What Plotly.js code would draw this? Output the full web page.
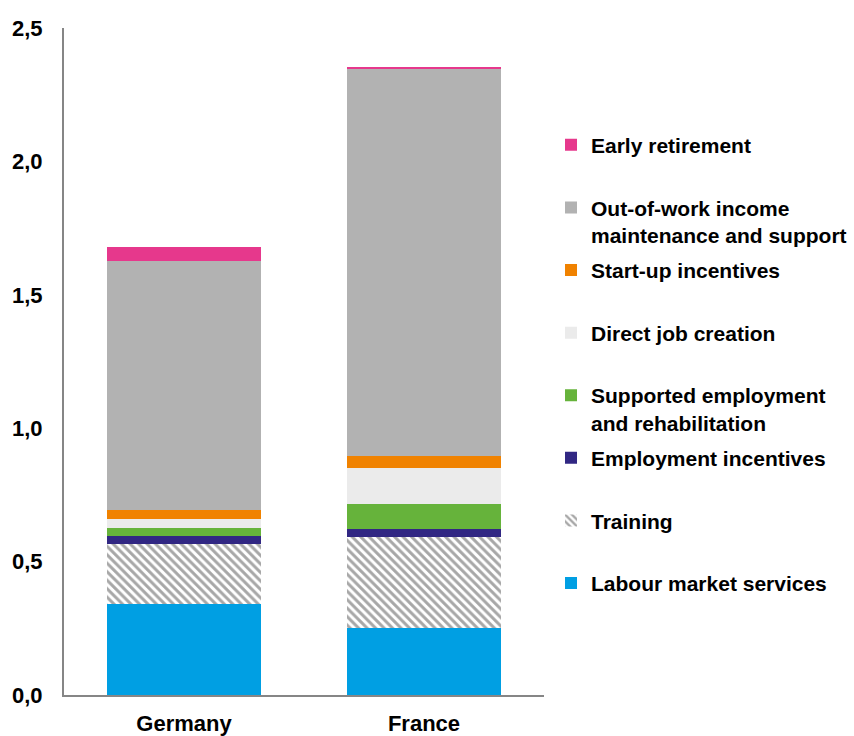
<!DOCTYPE html>
<html>
<head>
<meta charset="utf-8">
<script src="https://cdn.plot.ly/plotly-3.0.1.min.js"></script>
<style>
  html, body { margin: 0; padding: 0; background: #ffffff; }
  #chart { width: 854px; height: 736px; }
</style>
</head>
<body>
<div id="chart"></div>
<script>
// Categories
const countries = ["Germany", "France"];

// Series values (% of GDP), bottom to top of the stack
const labourMarketServices   = [0.340, 0.250];
const training               = [0.225, 0.343];
const employmentIncentives   = [0.032, 0.029];
const supportedEmployment    = [0.029, 0.094];
const directJobCreation      = [0.033, 0.135];
const startUpIncentives      = [0.036, 0.046];
const outOfWorkIncome        = [0.932, 1.450];
const earlyRetirement        = [0.051, 0.008];

// Legend labels
const seriesNames = [
  "Labour market services",
  "Training",
  "Employment incentives",
  "Supported employment<br>and rehabilitation",
  "Direct job creation",
  "Start-up incentives",
  "Out-of-work income<br>maintenance and support",
  "Early retirement"
];

const seriesValues = [
  labourMarketServices, training, employmentIncentives, supportedEmployment,
  directJobCreation, startUpIncentives, outOfWorkIncome, earlyRetirement
];

const seriesColors = [
  "#009FE3", "#FFFFFF", "#312783", "#66B33B",
  "#EBEBEB", "#F08200", "#B2B2B2", "#E6388C"
];

const FONT = "Liberation Sans, Arial, Helvetica, sans-serif";

// pad single-line legend names to two lines so entries are evenly spaced
function legendName(n) {
  return n.indexOf("<br>") >= 0 ? n : n + "<br>&nbsp;";
}

const traces = seriesValues.map((vals, i) => {
  const t = {
    type: "bar",
    x: countries,
    y: vals,
    name: legendName(seriesNames[i]),
    legendgroup: "g" + i,
    legendrank: 1000 - i,
    marker: { color: seriesColors[i], line: { width: 0 } },
    hoverinfo: "x+y+name"
  };
  if (i === 1) {
    t.marker.pattern = {
      shape: "\\",
      fgcolor: "#505050",
      bgcolor: "#FFFFFF",
      size: 6,
      solidity: 0.5,
      fillmode: "overlay"
    };
  }
  return t;
});

const layout = {
  width: 854,
  height: 736,
  margin: { l: 64, r: 310, t: 28, b: 41, pad: 0, autoexpand: false },
  paper_bgcolor: "#FFFFFF",
  plot_bgcolor: "#FFFFFF",
  separators: ", ",
  barmode: "stack",
  bargap: 0.36,
  font: { family: FONT, size: 22, color: "#000000", weight: "bold" },
  showlegend: true,
  legend: {
    x: 1.0146,
    xanchor: "left",
    y: 0.855,
    yanchor: "top",
    traceorder: "grouped",
    tracegroupgap: 5,
    valign: "top",
    bgcolor: "rgba(0,0,0,0)",
    borderwidth: 0,
    font: { family: FONT, size: 21, color: "#000000", weight: "bold" }
  },
  xaxis: {
    showline: true,
    linecolor: "#868686",
    linewidth: 2,
    showgrid: false,
    zeroline: false,
    ticks: "",
    tickfont: { family: FONT, size: 22, color: "#000000", weight: "bold" },
    ticklabelstandoff: 8,
    automargin: false,
    fixedrange: true
  },
  yaxis: {
    range: [0, 2.5],
    dtick: 0.5,
    tick0: 0,
    tickformat: ".1f",
    showline: true,
    linecolor: "#868686",
    linewidth: 2,
    showgrid: false,
    zeroline: false,
    ticks: "",
    tickfont: { family: FONT, size: 22, color: "#000000", weight: "bold" },
    ticklabelstandoff: 15,
    automargin: false,
    fixedrange: true
  }
};

Plotly.newPlot("chart", traces, layout, { displayModeBar: false, staticPlot: true });
</script>
</body>
</html>
